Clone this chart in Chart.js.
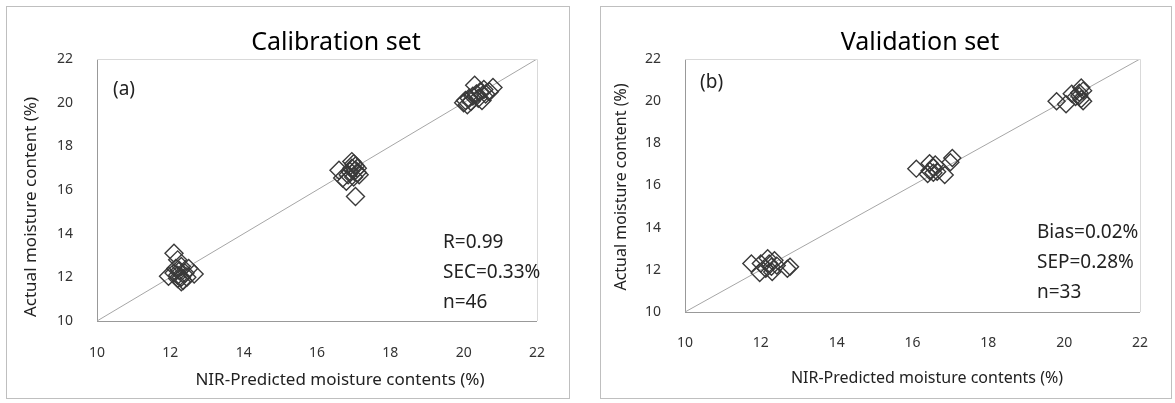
<!DOCTYPE html>
<html>
<head>
<meta charset="utf-8">
<script src="https://cdn.jsdelivr.net/npm/chart.js@4.4.1/dist/chart.umd.min.js"></script>
<style>
  body { margin: 0; background: #fff; }
  .panel { position: absolute; top: 6px; height: 391px; border: 1px solid #bfbfbf; background: #fff; }
  #p1 { left: 6px; width: 562px; }
  #p2 { left: 600px; width: 570px; }
  canvas { display: block; }
</style>
</head>
<body>
<div class="panel" id="p1"><canvas id="calChart" width="562" height="391"></canvas></div>
<div class="panel" id="p2"><canvas id="valChart" width="570" height="391"></canvas></div>
<script>
// axis ticks (both charts)
const tickValues = [10, 12, 14, 16, 18, 20, 22];

// calibration set, n=46 (NIR predicted vs actual)
const calPredicted = [
  12.1, 12.2, 12.3, 11.95, 12.1, 12.2, 12.25, 12.3, 12.35, 12.4, 12.5, 12.65, 12.2, 12.3, 12.15, 12.45,
  17.05, 16.6, 16.7, 16.85, 16.95, 17.0, 16.95, 17.05, 17.1, 17.15, 16.9, 17.0, 16.8, 17.1, 17.05,
  20.0, 20.05, 20.1, 20.15, 20.2, 20.3, 20.25, 20.35, 20.4, 20.45, 20.5, 20.55, 20.6, 20.7, 20.8
];
const calActual = [
  13.1, 12.8, 12.5, 12.05, 12.2, 12.1, 12.3, 12.0, 11.85, 12.2, 12.4, 12.15, 11.95, 11.8, 12.4, 12.0,
  15.7, 16.9, 16.55, 16.7, 17.0, 17.2, 17.3, 16.9, 16.8, 16.7, 16.85, 16.6, 16.4, 17.0, 17.1,
  20.0, 20.1, 19.9, 20.2, 20.05, 20.8, 20.3, 20.4, 20.2, 20.5, 20.1, 20.6, 20.4, 20.5, 20.7
];

// validation set, n=33
const valPredicted = [
  11.75, 12.0, 12.18, 12.13, 11.97, 12.3, 12.42, 12.7, 12.77, 12.22, 12.36, 12.28,
  16.1, 16.45, 16.4, 16.55, 16.65, 16.85, 17.05, 17.0, 16.45, 16.55, 16.6,
  19.8, 20.05, 20.2, 20.3, 20.4, 20.45, 20.5, 20.45, 20.5, 20.4
];
const valActual = [
  12.3, 12.3, 12.55, 12.05, 11.85, 11.9, 12.2, 12.05, 12.15, 12.3, 12.45, 12.15,
  16.8, 17.05, 16.55, 16.85, 16.65, 16.5, 17.3, 17.1, 16.7, 16.6, 17.0,
  20.0, 19.85, 20.35, 20.2, 20.4, 20.65, 20.5, 20.1, 20.0, 20.25
];

const lineEnds = [10, 22]; // 1:1 line

const FONT = "'Noto Sans', sans-serif";

// draws titles, notes and the light top/right frame
const textPlugin = {
  id: "texts",
  afterDraw(chart, args, opts) {
    const ctx = chart.ctx;
    const a = chart.chartArea;
    ctx.save();
    ctx.strokeStyle = "#d9d9d9";
    ctx.lineWidth = 1;
    ctx.beginPath();
    ctx.moveTo(a.left, a.top + 0.5);
    ctx.lineTo(a.right + 0.5, a.top + 0.5);
    ctx.lineTo(a.right + 0.5, a.bottom);
    ctx.stroke();

    ctx.fillStyle = "#000";
    ctx.textAlign = "center";
    ctx.textBaseline = "alphabetic";
    ctx.font = "25px " + FONT;
    ctx.fillText(opts.title, opts.titleX, 43);

    ctx.fillStyle = "#222";
    ctx.textBaseline = "middle";
    ctx.font = opts.axisFont + "px " + FONT;
    ctx.fillText(opts.xTitle, opts.xTitleX, opts.xTitleY);
    ctx.save();
    ctx.translate(opts.yTitleX, opts.yTitleY);
    ctx.rotate(-Math.PI / 2);
    ctx.fillText(opts.yTitle, 0, 0);
    ctx.restore();

    ctx.textAlign = "left";
    ctx.font = "19px " + FONT;
    ctx.fillText(opts.tag, opts.tagX, opts.tagY);
    opts.notes.forEach((t, i) => {
      ctx.fillText(t, opts.notesX, opts.notesY + i * 30);
    });
    ctx.restore();
  },
};

function makeChart(id, xs, ys, r, box, texts) {
  const pts = xs.map((x, i) => ({ x: x, y: ys[i] }));
  const axis = (pad, fit) => ({
    type: "linear",
    min: tickValues[0],
    max: tickValues[tickValues.length - 1],
    afterBuildTicks: (s) => { s.ticks = tickValues.map((v) => ({ value: v })); },
    afterFit: fit,
    ticks: { padding: pad, color: "#333", font: { family: FONT, size: 14 } },
    grid: { display: false, drawTicks: false },
    border: { display: true, color: "#999", width: 1 },
  });
  return new Chart(document.getElementById(id), {
    type: "scatter",
    data: {
      datasets: [
        {
          data: pts,
          pointStyle: "rectRot",
          pointRadius: r,
          pointBorderColor: "#3a3a3a",
          pointBackgroundColor: "rgba(0,0,0,0)",
          pointBorderWidth: 1.4,
          order: 1,
        },
        {
          type: "line",
          data: lineEnds.map((v) => ({ x: v, y: v })),
          borderColor: "#a6a6a6",
          borderWidth: 1,
          pointRadius: 0,
          order: 2,
        },
      ],
    },
    options: {
      responsive: false,
      animation: false,
      devicePixelRatio: 1,
      layout: { padding: { left: 0, top: box.top, right: box.right, bottom: 0 } },
      scales: {
        x: axis(box.xPad, (s) => { s.height = box.xH; }),
        y: axis(24, (s) => { s.width = box.yW; }),
      },
      plugins: { legend: { display: false }, tooltip: { enabled: false }, texts: texts },
    },
    plugins: [textPlugin],
  });
}

makeChart("calChart", calPredicted, calActual, 9,
  { top: 52, right: 19, xH: 77, yW: 90, xPad: 24 },
  {
    title: "Calibration set", titleX: 329,
    xTitle: "NIR-Predicted moisture contents (%)", xTitleX: 333, xTitleY: 373,
    yTitle: "Actual moisture content (%)", yTitleX: 24, yTitleY: 200,
    axisFont: 17,
    tag: "(a)", tagX: 106, tagY: 83,
    notes: ["R=0.99", "SEC=0.33%", "n=46"], notesX: 436, notesY: 236,
  });

makeChart("valChart", valPredicted, valActual, 8.5,
  { top: 52, right: 18, xH: 86, yW: 84, xPad: 23 },
  {
    title: "Validation set", titleX: 319,
    xTitle: "NIR-Predicted moisture contents (%)", xTitleX: 326, xTitleY: 371,
    yTitle: "Actual moisture content (%)", yTitleX: 20, yTitleY: 180,
    axisFont: 16,
    tag: "(b)", tagX: 99, tagY: 76,
    notes: ["Bias=0.02%", "SEP=0.28%", "n=33"], notesX: 436, notesY: 226,
  });
</script>
</body>
</html>
